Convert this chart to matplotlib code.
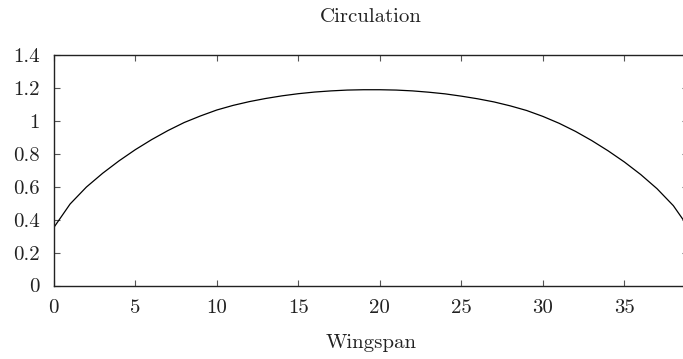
import matplotlib
matplotlib.use("Agg")
import matplotlib.pyplot as plt

plt.rcParams["font.family"] = "serif"
plt.rcParams["font.serif"] = ["cmr10"]
plt.rcParams["axes.unicode_minus"] = False
plt.rcParams["axes.formatter.use_mathtext"] = True

# spanwise station and circulation along it
span = [0, 1, 2, 3, 4, 5, 6, 7, 8, 9, 10, 11, 12, 13, 14, 15, 16, 17, 18,
        19, 20, 21, 22, 23, 24, 25, 26, 27, 28, 29, 30, 31, 32, 33, 34, 35,
        36, 37, 38, 38.6, 38.9]
circulation = [0.352, 0.495, 0.598, 0.682, 0.757, 0.825, 0.886, 0.941, 0.990,
               1.030, 1.066, 1.094, 1.117, 1.136, 1.152, 1.165, 1.175, 1.182,
               1.187, 1.189, 1.189, 1.187, 1.182, 1.174, 1.164, 1.150, 1.134,
               1.115, 1.091, 1.063, 1.027, 0.985, 0.936, 0.880, 0.818, 0.750,
               0.674, 0.588, 0.485, 0.400, 0.352]

x_ticks = [0, 5, 10, 15, 20, 25, 30, 35]
x_tick_labels = ["0", "5", "10", "15", "20", "25", "30", "35"]
y_ticks = [0, 0.2, 0.4, 0.6, 0.8, 1.0, 1.2, 1.4]
y_tick_labels = ["0", "0.2", "0.4", "0.6", "0.8", "1", "1.2", "1.4"]

W, H = 683, 359
fig = plt.figure(figsize=(W / 100, H / 100), dpi=100)
left, right, top, bottom = 53.8, 688.0, 55.0, 285.5
ax = fig.add_axes([left / W, 1 - bottom / H, (right - left) / W, (bottom - top) / H])

ax.plot(span, circulation, color="black", lw=0.9)

ax.set_xlim(0, 38.9)
ax.set_ylim(0, 1.4)
ax.set_xticks(x_ticks)
ax.set_xticklabels(x_tick_labels)
ax.set_yticks(y_ticks)
ax.set_yticklabels(y_tick_labels)

for s in ax.spines.values():
    s.set_linewidth(1.0)
    s.set_color("#222222")

ax.tick_params(direction="in", length=4.3, width=0.8, color="#555555",
               top=True, right=True, labelsize=15, pad=10,
               labelcolor="#222222")

cx = (left + right) / 2 / W
fig.text(cx, 1 - 21.7 / H, "Circulation", ha="center", va="baseline",
         fontsize=15, color="#222222")
fig.text(cx, 1 - 348 / H, "Wingspan", ha="center", va="baseline",
         fontsize=15, color="#222222")

fig.savefig("out.png", dpi=100)
